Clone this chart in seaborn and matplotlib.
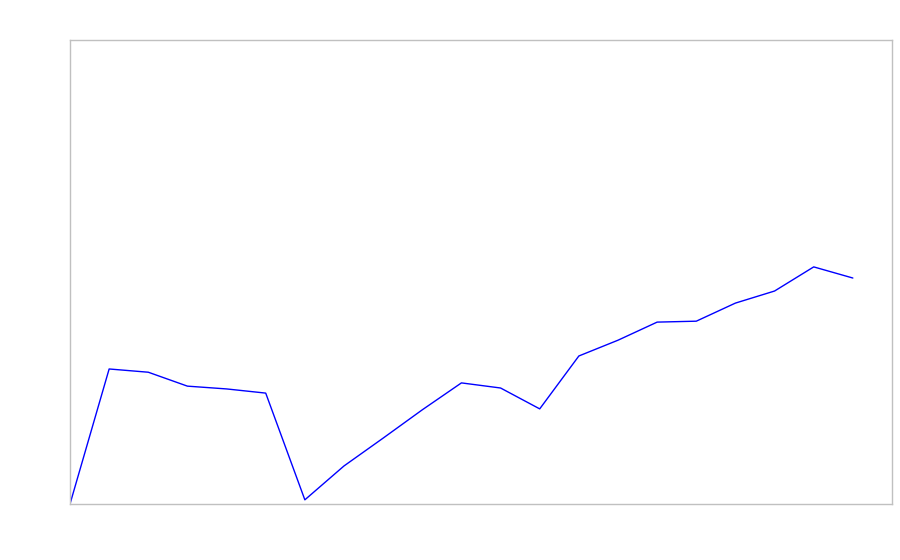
import numpy as np
import pandas as pd
import matplotlib
matplotlib.use("Agg")
import matplotlib.pyplot as plt
import seaborn as sns

# values (0 = bottom of the plot, 100 = top)
steps = list(range(21))
values = [0.0, 29.1, 28.4, 25.4, 24.8, 23.9, 0.9, 8.2, 14.2, 20.3, 26.1,
          25.0, 20.5, 31.9, 35.3, 39.2, 39.4, 43.3, 45.9, 51.1, 48.7]

df = pd.DataFrame({"step": steps, "value": values})

sns.set_style("white")

fig = plt.figure(figsize=(9, 5.6), dpi=100)
ax = fig.add_axes([70 / 900, 56 / 560, 822 / 900, 464 / 560])

sns.lineplot(data=df, x="step", y="value", ax=ax, color="#0000ff", linewidth=1)

ax.set_xlim(0, 21)
ax.set_ylim(0, 100)
ax.set_xticks([])
ax.set_yticks([])
ax.set_xlabel("")
ax.set_ylabel("")
for s in ax.spines.values():
    s.set_color("#c0c0c0")
    s.set_linewidth(1)

fig.savefig("out.png", dpi=100)
